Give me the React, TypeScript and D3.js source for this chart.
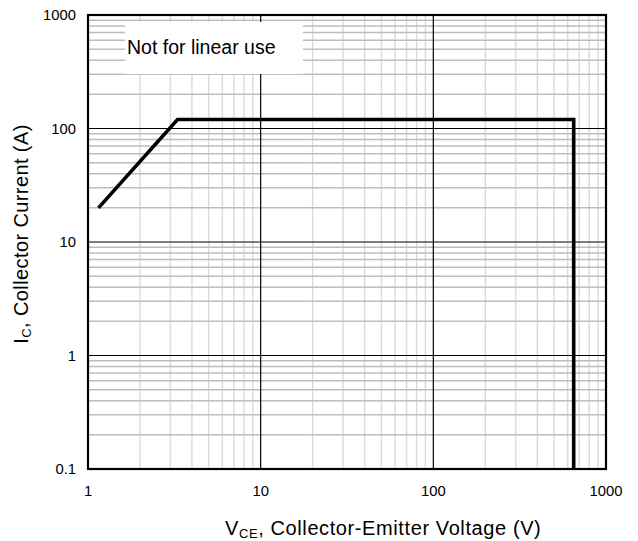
import React from "react";
import * as d3 from "d3";

// Safe operating area boundary (V_CE in volts, I_C in amps)
const vce = [1.15, 3.3, 650, 650];
const ic = [20, 120, 120, 0.1];

const xTicks = [1, 10, 100, 1000];
const yTicks = [0.1, 1, 10, 100, 1000];
const xTickLabels = ["1", "10", "100", "1000"];
const yTickLabels = ["0.1", "1", "10", "100", "1000"];

const W = 638;
const H = 541;
const M = { left: 88, right: 606, top: 15, bottom: 469 };
const FONT = "'Liberation Sans', Arial, sans-serif";

export default function App() {
  const x = d3.scaleLog().domain([1, 1000]).range([M.left, M.right]);
  const y = d3.scaleLog().domain([0.1, 1000]).range([M.bottom, M.top]);

  const minorX: number[] = [];
  const minorY: number[] = [];
  for (let d = 1; d < 1000; d *= 10) for (let k = 2; k <= 9; k++) minorX.push(d * k);
  for (let d = 0.1; d < 1000; d *= 10) for (let k = 2; k <= 9; k++) minorY.push(d * k);

  const line = d3
    .line<number>()
    .x((_, i) => x(vce[i]))
    .y((v) => y(v));

  return (
    <svg width={W} height={H} style={{ position: "absolute", left: 0, top: 0, background: "#fff" }}>
      {/* minor grid */}
      {minorX.map((v) => (
        <line key={"mx" + v} x1={x(v)} x2={x(v)} y1={M.top} y2={M.bottom} stroke="#dcdcdc" strokeWidth={1.5} />
      ))}
      {minorY.map((v) => (
        <line key={"my" + v} x1={M.left} x2={M.right} y1={y(v)} y2={y(v)} stroke="#bdbdbd" strokeWidth={1.5} />
      ))}
      {/* major grid */}
      {xTicks.map((v) => (
        <line key={"Mx" + v} x1={x(v)} x2={x(v)} y1={M.top} y2={M.bottom} stroke="#000" strokeWidth={1.2} />
      ))}
      {yTicks.map((v) => (
        <line key={"My" + v} x1={M.left} x2={M.right} y1={y(v)} y2={y(v)} stroke="#000" strokeWidth={1.2} />
      ))}
      {/* annotation box */}
      <rect x={125} y={22} width={178} height={52} fill="#fff" />
      <text x={127} y={54} fontFamily={FONT} fontSize={19.5} fill="#000">
        Not for linear use
      </text>
      {/* frame */}
      <rect x={M.left} y={M.top} width={M.right - M.left} height={M.bottom - M.top} fill="none" stroke="#000" strokeWidth={2.2} />
      {/* SOA curve */}
      <path d={line(ic) || ""} fill="none" stroke="#000" strokeWidth={3.6} strokeLinejoin="miter" />
      {/* tick labels */}
      {xTicks.map((v, i) => (
        <text key={"xt" + v} x={x(v)} y={496} textAnchor="middle" fontFamily={FONT} fontSize={14.8} fill="#000">
          {xTickLabels[i]}
        </text>
      ))}
      {yTicks.map((v, i) => (
        <text key={"yt" + v} x={76} y={y(v) + 5} textAnchor="end" fontFamily={FONT} fontSize={14.8} fill="#000">
          {yTickLabels[i]}
        </text>
      ))}
      {/* axis titles */}
      <text x={225} y={535} fontFamily={FONT} fontSize={20} letterSpacing={0.6} fill="#000">
        V<tspan fontSize={13} dy={2.5}>CE</tspan>
        <tspan dy={-2.5}>, Collector-Emitter Voltage (V)</tspan>
      </text>
      <text
        transform={`translate(28,${234}) rotate(-90)`}
        textAnchor="middle"
        fontFamily={FONT}
        fontSize={20}
        letterSpacing={0.4}
        fill="#000"
      >
        I<tspan fontSize={13} dy={2.5}>C</tspan>
        <tspan dy={-2.5}>, Collector Current (A)</tspan>
      </text>
    </svg>
  );
}
